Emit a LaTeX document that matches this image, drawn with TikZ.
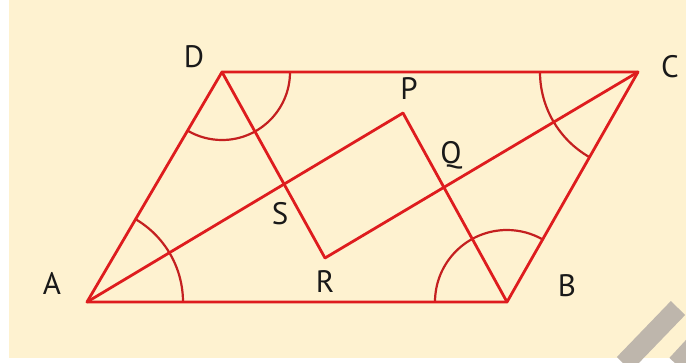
\documentclass[tikz,border=0pt]{standalone}
\usepackage{fontspec}
\setmainfont{PT Sans}
\usetikzlibrary{calc}
\definecolor{bgcream}{RGB}{254,242,208}
\definecolor{linered}{RGB}{222,28,30}
\definecolor{arcred}{RGB}{196,32,32}
\definecolor{wmgrey}{RGB}{190,182,172}
\begin{document}
\begin{tikzpicture}[x=1pt,y=-1pt,
  edge/.style={draw=linered,line width=2.8pt,line join=round,line cap=round},
  angarc/.style={draw=arcred,line width=2.2pt},
  lbl/.style={font=\fontsize{31}{31}\selectfont,text=black!90,inner sep=0pt}]
\useasboundingbox (0,0) rectangle (686,362);
\fill[white] (0,0) rectangle (686,362);
\fill[bgcream] (9,0) rectangle (686,358);
% watermark strokes
\draw[wmgrey,line width=20pt] (678,308) -- (624,364);
\draw[wmgrey,line width=18pt] (700,338) -- (676,364);
% vertices
\coordinate (A) at (87,302);
\coordinate (B) at (507,302);
\coordinate (C) at (638,72);
\coordinate (D) at (222,72);
\coordinate (P) at (403,113);
\coordinate (R) at (325,258);
\coordinate (S) at (intersection of A--P and D--R);
\coordinate (Q) at (intersection of B--P and C--R);
% angle arcs
\draw[angarc] ($(A)+(0:96)$) arc[start angle=0,end angle=-60,radius=96];
\draw[angarc] ($(B)+(-180:72)$) arc[start angle=-180,end angle=-60,radius=72];
\draw[angarc] ($(C)+(180:98)$) arc[start angle=180,end angle=120,radius=98];
\draw[angarc] ($(D)+(0:68)$) arc[start angle=0,end angle=120,radius=68];
% parallelogram
\draw[edge] (A) -- (B) -- (C) -- (D) -- cycle;
% bisectors
\draw[edge] (A) -- (P);
\draw[edge] (B) -- (P);
\draw[edge] (C) -- (R);
\draw[edge] (D) -- (R);
% labels
\node[lbl] (lA) at (52,283) {A};
\node[lbl] (lB) at (567,286) {B};
\node[lbl] (lC) at (670,67) {C};
\node[lbl] (lD) at (194,57) {D};
\node[lbl] (lP) at (409,89) {P};
\node[lbl] (lQ) at (451,155) {Q};
\node[lbl] (lR) at (325,282) {R};
\node[lbl] (lS) at (280,214) {S};
\end{tikzpicture}
\end{document}
